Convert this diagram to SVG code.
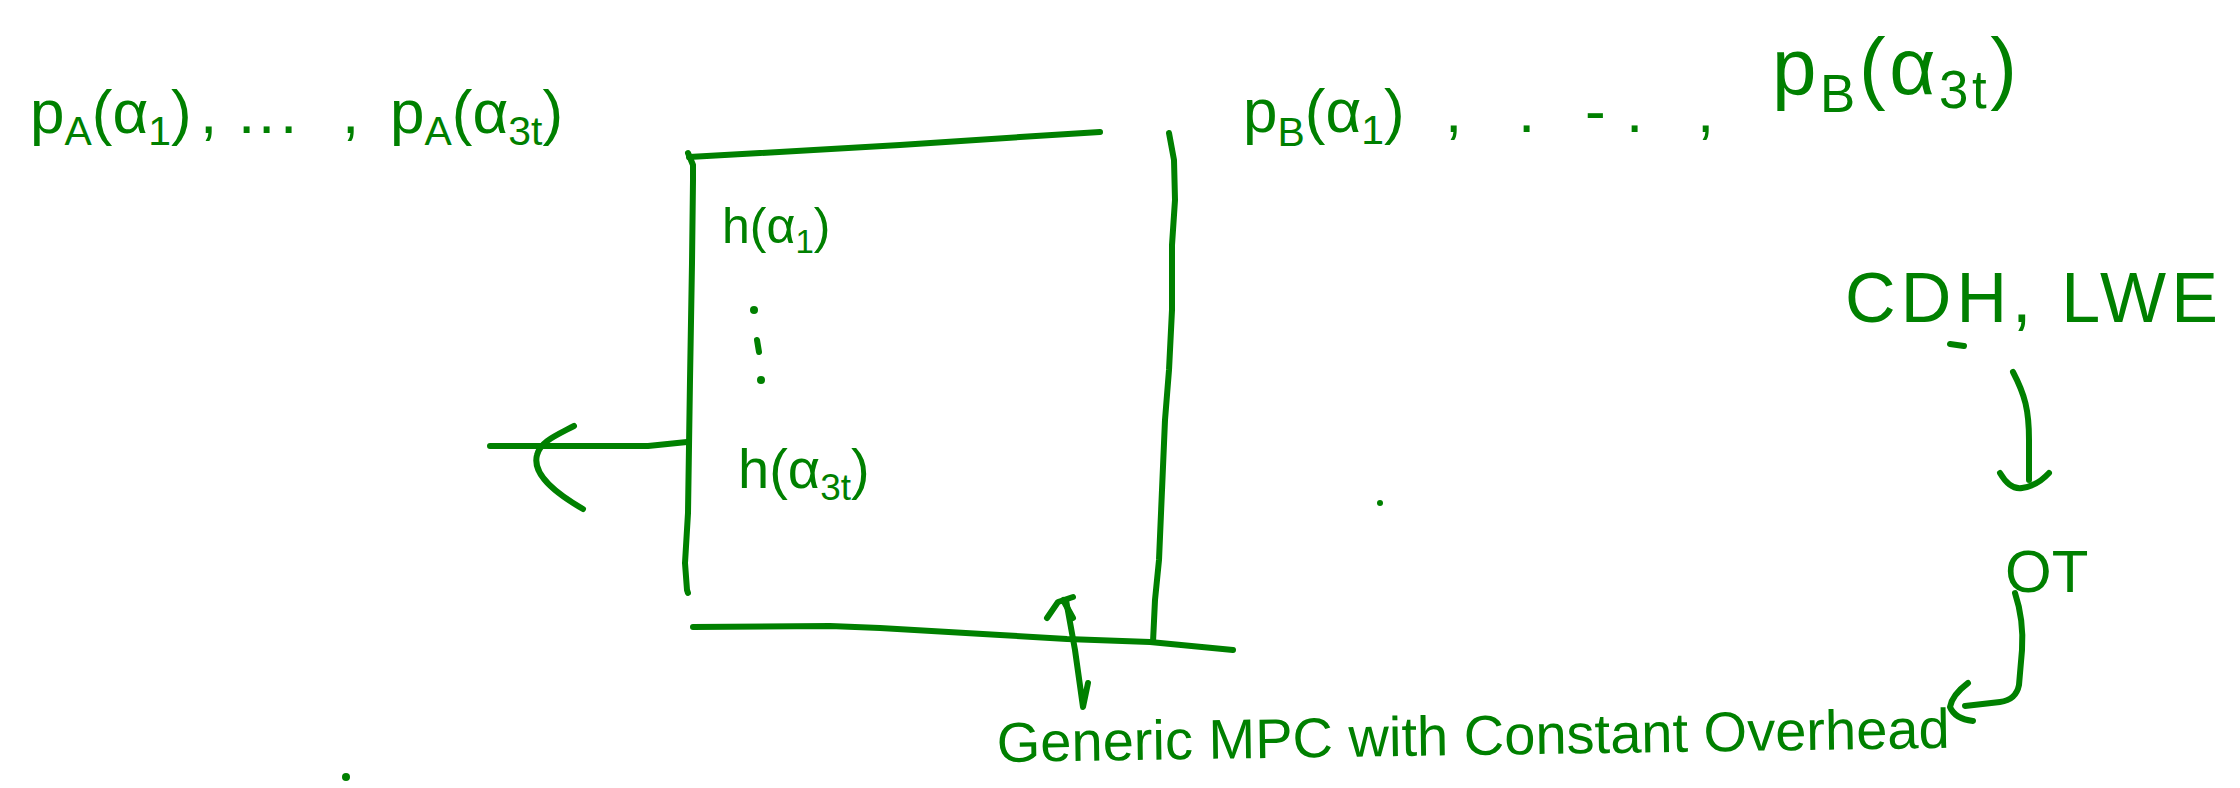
<svg xmlns="http://www.w3.org/2000/svg" width="2240" height="788" viewBox="0 0 2240 788">
<style>
.ink{fill:none;stroke:#008000;stroke-width:6;stroke-linecap:round;stroke-linejoin:round}
.dot{fill:#008000}
text{fill:#008000;font-family:"Liberation Sans",Arial,sans-serif}
.sub{font-size:0.66em}
</style>
<rect width="2240" height="788" fill="#ffffff"/>
<g id="inputs-A">
<text y="133" font-size="62"><tspan x="30">p</tspan><tspan class="sub" dy="12">A</tspan><tspan dy="-12">(α</tspan><tspan class="sub" dy="12">1</tspan><tspan dy="-12">)</tspan><tspan x="200">,</tspan><tspan x="238">.</tspan><tspan x="258">.</tspan><tspan x="280">.</tspan><tspan x="342">,</tspan><tspan x="390">p</tspan><tspan class="sub" dy="12">A</tspan><tspan dy="-12">(α</tspan><tspan class="sub" dy="12">3t</tspan><tspan dy="-12">)</tspan></text>
</g>
<g id="inputs-B">
<text y="132" font-size="62"><tspan x="1243">p</tspan><tspan class="sub" dy="14">B</tspan><tspan dy="-14">(α</tspan><tspan class="sub" dy="12">1</tspan><tspan dy="-12">)</tspan><tspan x="1445">,</tspan><tspan x="1518">.</tspan><tspan x="1585">-</tspan><tspan x="1626">.</tspan><tspan x="1697">,</tspan></text>
<text x="1772" y="94" font-size="80" textLength="245"><tspan>p</tspan><tspan class="sub" dy="18">B</tspan><tspan dy="-18">(α</tspan><tspan class="sub" dy="14">3t</tspan><tspan dy="-14">)</tspan></text>
</g>
<g id="h-box">
<path class="ink" d="M688,153 L693,165 L693,180 L692,263 L690,380 L688,513 L685,563 L687,590 L688,593"/>
<path class="ink" d="M689,157 L760,153 L900,145 L1020,137 L1100,132"/>
<path class="ink" d="M1169,133 L1174,160 L1175,200 L1172,245 L1172,310 L1169,370 L1165,420 L1162,490 L1159,560 L1155,600 L1153,642"/>
<path class="ink" d="M693,627 L830,626 L880,628 L1000,635 L1067,639 L1150,642 L1233,650"/>
<text x="722" y="243" font-size="50"><tspan>h(α</tspan><tspan class="sub" dy="10">1</tspan><tspan dy="-10">)</tspan></text>
<circle class="dot" cx="754" cy="310" r="4"/>
<path class="ink" d="M757,340 L759,352"/>
<circle class="dot" cx="761" cy="380" r="4"/>
<text x="738" y="488" font-size="56"><tspan>h(α</tspan><tspan class="sub" dy="12">3t</tspan><tspan dy="-12">)</tspan></text>
</g>
<g id="assumptions">
<text x="1845" y="322" font-size="70" textLength="373">CDH, LWE</text>
<path class="ink" d="M1950,344 L1964,346"/>
</g>
<g id="ot">
<text x="2005" y="592" font-size="60">OT</text>
</g>
<g id="mpc">
<text x="997" y="762" font-size="56" textLength="953" transform="rotate(-0.85 997 762)">Generic MPC with Constant Overhead</text>
</g>
<g id="connectors">
<path class="ink" d="M490,446 L648,446 L687,442"/>
<path class="ink" d="M574,426 C555,436 540,442 537,455 C533,470 545,487 583,509"/>
<path class="ink" d="M1066,600 L1075,650 L1083,707 L1088,683"/>
<path class="ink" d="M1047,618 L1058,602 L1073,597 M1063,600 L1073,618"/>
<path class="ink" d="M2013,372 C2025,395 2029,410 2029,440 L2029,480"/>
<path class="ink" d="M2000,473 Q2010,490 2022,488 Q2037,486 2049,473"/>
<path class="ink" d="M2015,593 Q2024,620 2022,650 L2019,685 Q2016,700 2000,702 L1965,706"/>
<path class="ink" d="M1968,683 Q1952,695 1950,707 Q1955,719 1973,721"/>
</g>
<g id="marks">
<circle class="dot" cx="346" cy="777" r="4"/>
<circle class="dot" cx="1380" cy="503" r="3"/>
</g>
</svg>
